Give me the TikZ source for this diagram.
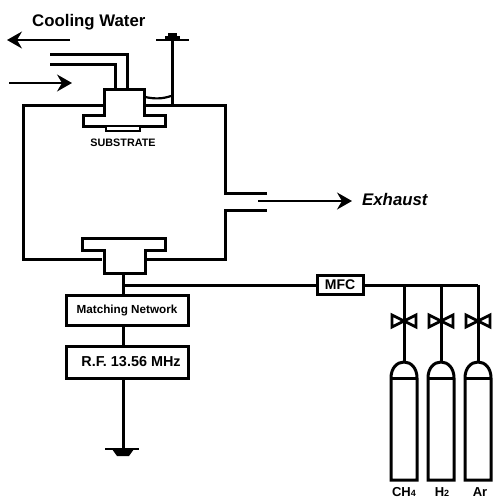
\documentclass[tikz,border=0pt]{standalone}
\usepackage{fontspec}
\setmainfont{Liberation Sans}
\usetikzlibrary{arrows.meta,calc}
\newcommand{\lowdigit}[1]{{\fontsize{9}{9}\selectfont #1}}
\tikzset{
  wall/.style={line width=3pt,line join=miter,black},
  flow/.style={line width=1.3pt,black,-{Stealth[length=15pt,width=17pt,inset=5pt]}},
  boxed/.style={draw=black,line width=3pt,fill=white,inner sep=0pt,font=\bfseries},
  gaslabel/.style={font=\bfseries\fontsize{13}{13}\selectfont,inner sep=0pt,anchor=base},
  valvewing/.style={draw=black,line width=2.8pt,fill=white,line join=miter},
}
\begin{document}
\begin{tikzpicture}[x=1pt,y=-1pt]
\useasboundingbox (0,0) rectangle (493,501);
% chamber
\draw[wall] (104,105) -- (23,105) -- (23,259) -- (102,259);
\draw[wall] (147,259) -- (225,259) -- (225,210) -- (267,210);
\draw[wall] (267,193) -- (225,193) -- (225,105) -- (144,105);
% top electrode
\draw[wall,fill=white] (104,89) -- (144,89) -- (144,115) -- (165,115) -- (165,126) -- (83,126) -- (83,115) -- (104,115) -- cycle;
\draw[line width=1.6pt,fill=white] (106,127) -- (106,131) -- (140,131) -- (140,127);
\node[font=\bfseries\fontsize{10.8}{10.8}\selectfont,inner sep=0pt] (substrate) at (123,143) {SUBSTRATE};
% cooling pipes
\coordinate (outerEnd) at (50,54);
\coordinate (outerTurn) at (127,54);
\coordinate (outerIn) at (127,89);
\coordinate (innerEnd) at (50,64);
\coordinate (innerTurn) at (115,64);
\coordinate (innerIn) at (115,89);
\draw[wall] (outerEnd) -- (outerTurn) -- (outerIn);
\draw[wall] (innerEnd) -- (innerTurn) -- (innerIn);
\coordinate (outA) at (70,40);
\coordinate (outB) at (7,40);
\coordinate (inA) at (9,83);
\coordinate (inB) at (72,83);
\draw[flow] (outA) -- (outB);
\draw[flow] (inA) -- (inB);
\node[font=\bfseries\fontsize{16.8}{16.8}\selectfont,inner sep=0pt,anchor=west] (cooling) at (32,22) {Cooling Water};
% top feedthrough
\coordinate (capC) at (172,40);
\coordinate (capBase) at (172,105);
\coordinate (capL) at (156,40);
\coordinate (capR) at (189,40);
\draw[wall] (capC) -- (capBase);
\draw[wall,line width=2pt] (capL) -- (capR);
\fill[black] (165,39) rectangle (180,36);
\fill[black] (168,36) rectangle (177,33);
\draw[line width=2.2pt] (145,97) .. controls (155,99) and (162,99) .. (171,96);
% exhaust
\coordinate (exA) at (258,201);
\coordinate (exB) at (352,201);
\draw[flow] (exA) -- (exB);
\node[font=\bfseries\itshape\fontsize{16.8}{16.8}\selectfont,inner sep=0pt,anchor=west] (exhaust) at (362,199) {Exhaust};
% bottom electrode
\draw[wall,fill=white] (82,238) -- (165,238) -- (165,250) -- (145,250) -- (145,273) -- (104,273) -- (104,250) -- (82,250) -- cycle;
\coordinate (electrodeBase) at (123,273);
% boxes
\node[boxed,minimum width=122pt,minimum height=30pt,font=\bfseries\fontsize{11.7}{11.7}\selectfont] (match) at (127,310) {Matching Network};
\node[boxed,minimum width=122pt,minimum height=32pt,font=\bfseries\fontsize{14.4}{14.4}\selectfont] (rf) at (127,362) {\hspace{8pt}R.F. 13.56 MHz};
\node[boxed,minimum width=46pt,minimum height=19pt,font=\bfseries\fontsize{14}{14}\selectfont] (mfc) at (340,285) {MFC};
\coordinate (junction) at (123,285);
\coordinate (ground) at (123,449);
\draw[wall] (electrodeBase) -- (junction) -- (match.north -| junction);
\draw[wall] (junction) -- (mfc.west);
\draw[wall] (match.south -| junction) -- (rf.north -| junction);
\draw[wall] (rf.south -| junction) -- (ground);
\draw[line width=1.6pt] (105,449) -- (139,449);
\fill[black] (112,449) -- (134,449) -- (129,456) -- (117,456) -- cycle;
% gas lines
\coordinate (t1) at (404,285);
\coordinate (t2) at (441,285);
\coordinate (t3) at (478,285);
\draw[wall] (mfc.east) -- (t3);
\foreach \x/\n/\lab/\lx in {404/1/{CH\lowdigit{4}}/404, 441/2/{H\lowdigit{2}}/442, 478/3/{Ar}/480}{
  \draw[wall] (t\n) -- (\x,362);
  \draw[valvewing] (\x,321) -- (\x-12,315) -- (\x-12,327) -- cycle;
  \draw[valvewing] (\x,321) -- (\x+12,315) -- (\x+12,327) -- cycle;
  \draw[wall,fill=white] (\x-13,378) .. controls (\x-13,368) and (\x-7,362) .. (\x,362) .. controls (\x+7,362) and (\x+13,368) .. (\x+13,378) -- (\x+13,480) -- (\x-13,480) -- cycle;
  \draw[wall] (\x-13,378) -- (\x+13,378);
  \node[gaslabel] (gas\n) at (\lx,496.5) {\lab};
}
\end{tikzpicture}
\end{document}
